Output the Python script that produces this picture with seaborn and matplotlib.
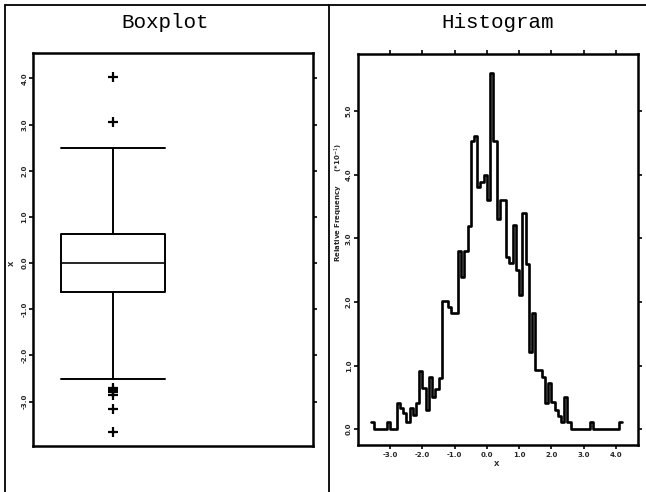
import numpy as np
import pandas as pd
import matplotlib
matplotlib.use("Agg")
import matplotlib.pyplot as plt
import seaborn as sns
from matplotlib.lines import Line2D
from matplotlib.ticker import FixedLocator, FormatStrFormatter

# Histogram of X: relative frequency (x10^-1) per bin of width 0.1, first bin at -3.6
bin_start = -3.6
bin_width = 0.1
rel_freq = [
    0.11, 0.00, 0.00, 0.00, 0.00, 0.11, 0.00, 0.00,
    0.41, 0.33, 0.25, 0.11, 0.33, 0.22, 0.41, 0.91, 0.65, 0.30, 0.82, 0.51, 0.63, 0.80,
    2.02, 2.02, 1.92, 1.82, 1.82,
    2.80, 2.40, 2.80, 3.20, 4.53, 4.61, 3.81, 3.89, 3.99, 3.61, 5.60, 4.53,
    3.30, 3.60, 3.60, 2.71, 2.61, 3.21, 2.50, 2.11, 3.40, 2.60, 1.22, 1.82,
    0.93, 0.93, 0.82, 0.41, 0.72, 0.43, 0.30, 0.20, 0.11, 0.51, 0.11,
    0.00, 0.00, 0.00, 0.00, 0.00, 0.00,
    0.11,
    0.00, 0.00, 0.00, 0.00, 0.00, 0.00, 0.00, 0.00,
    0.11,
]

# Boxplot summary of X
box_q1 = -0.62
box_median = 0.0
box_q3 = 0.63
whisker_low = -2.51
whisker_high = 2.49
outliers = [4.04, 3.06, -2.70, -2.75, -2.80, -2.85, -3.16, -3.65]

box_yticks = [-3, -2, -1, 0, 1, 2, 3, 4]
hist_xticks = [-3, -2, -1, 0, 1, 2, 3, 4]
hist_yticks = [0, 1, 2, 3, 4, 5]

sns.set_style("ticks")
plt.rcParams["font.family"] = ["DejaVu Sans"]
plt.rcParams["axes.unicode_minus"] = False

W, H = 646, 492
fig = plt.figure(figsize=(W / 100, H / 100), dpi=100)
fig.patch.set_facecolor("white")

def fx(px):
    return px / W

def fy(py):
    return 1 - py / H

ax1 = fig.add_axes([fx(33), fy(446), fx(313) - fx(33), fy(53) - fy(446)])
ax2 = fig.add_axes([fx(358), fy(445), fx(638) - fx(358), fy(54) - fy(445)])

frame_lw = 1.8
tick_kw = dict(direction="out", length=3, width=1.2, color="black", labelsize=5)

# ---- Boxplot ----
stats = [dict(med=box_median, q1=box_q1, q3=box_q3,
              whislo=whisker_low, whishi=whisker_high, fliers=outliers)]
line_kw = dict(color="black", linewidth=1.4)
ax1.bxp(stats, positions=[0], widths=0.65, capwidths=0.65, showfliers=True,
        boxprops=line_kw, whiskerprops=line_kw, capprops=line_kw,
        medianprops=dict(color="black", linewidth=1.2),
        flierprops=dict(marker="+", markersize=7, markeredgewidth=1.6,
                        markeredgecolor="black", linestyle="none"))
ax1.set_xlim(-0.5, 1.25)
ax1.set_ylim(-3.96, 4.55)
ax1.yaxis.set_major_locator(FixedLocator(box_yticks))
ax1.yaxis.set_major_formatter(FormatStrFormatter("%.1f"))
ax1.set_xticks([])
ax1.tick_params(axis="y", left=True, right=True, labelleft=True, pad=1, **tick_kw)
for lab in ax1.get_yticklabels():
    lab.set_rotation(90)
    lab.set_va("center")
    lab.set_fontweight("bold")
ax1.set_ylabel("X", fontsize=5, fontweight="bold")
ax1.yaxis.set_label_coords(-0.064, 0.466)

# ---- Histogram ----
n = len(rel_freq)
centers = np.round(bin_start + bin_width * (np.arange(n) + 0.5), 3)
hist_df = pd.DataFrame({"X": centers, "freq": rel_freq})
sns.histplot(data=hist_df, x="X", weights="freq", binwidth=bin_width,
             binrange=(bin_start, bin_start + n * bin_width),
             element="step", fill=False, color="black", linewidth=1.9, ax=ax2)
ax2.set_xlim(-4.0, 4.69)
ax2.set_ylim(-0.25, 5.90)
ax2.xaxis.set_major_locator(FixedLocator(hist_xticks))
ax2.xaxis.set_major_formatter(FormatStrFormatter("%.1f"))
ax2.yaxis.set_major_locator(FixedLocator(hist_yticks))
ax2.yaxis.set_major_formatter(FormatStrFormatter("%.1f"))
ax2.tick_params(axis="x", bottom=True, top=True, pad=2, **tick_kw)
ax2.tick_params(axis="y", left=True, right=True, pad=1.5, **tick_kw)
for lab in ax2.get_xticklabels():
    lab.set_fontweight("bold")
for lab in ax2.get_yticklabels():
    lab.set_rotation(90)
    lab.set_va("center")
    lab.set_fontweight("bold")
ax2.set_xlabel("X", fontsize=5, fontweight="bold")
ax2.xaxis.set_label_coords(0.496, -0.042)
ax2.set_ylabel("Relative Frequency      (*10$^{-1}$)", fontsize=5, fontweight="bold")
ax2.yaxis.set_label_coords(-0.046, 0.62)

for ax in (ax1, ax2):
    for sp in ax.spines.values():
        sp.set_visible(True)
        sp.set_linewidth(frame_lw)
        sp.set_color("black")
    ax.grid(False)

# ---- Panel titles and outer frame ----
title_kw = dict(fontsize=15, family=["Liberation Mono", "DejaVu Sans Mono"],
                ha="center", va="center", color="black")
fig.text(fx(165), fy(22), "Boxplot", **title_kw)
fig.text(fx(498), fy(22), "Histogram", **title_kw)

border_kw = dict(color="black", linewidth=1.3, transform=fig.transFigure)
fig.add_artist(Line2D([fx(5), 1.0], [fy(5), fy(5)], **border_kw))
fig.add_artist(Line2D([fx(5), fx(5)], [fy(5), 0.0], **border_kw))
fig.add_artist(Line2D([fx(329), fx(329)], [fy(5), 0.0], **border_kw))

fig.savefig("out.png", dpi=100, facecolor="white")
